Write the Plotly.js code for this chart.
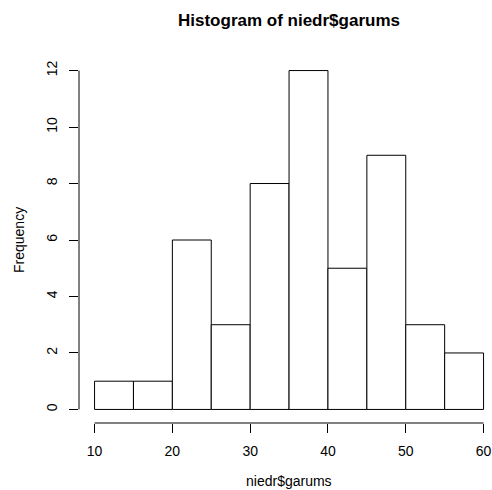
<!DOCTYPE html>
<html><head><meta charset="utf-8">
<script src="https://cdn.plot.ly/plotly-3.0.1.min.js"></script>
<style>html,body{margin:0;padding:0;background:#fff;overflow:hidden}</style>
</head><body><div id="chart" style="width:492px;height:490px"></div>
<script>
const breaks = [10, 15, 20, 25, 30, 35, 40, 45, 50, 55, 60];
const counts = [1, 1, 6, 3, 8, 12, 5, 9, 3, 2];
const xTicks = [10, 20, 30, 40, 50, 60];
const yTicks = [0, 2, 4, 6, 8, 10, 12];
const mainTitle = "Histogram of niedr$garums";
const xLabel = "niedr$garums";
const yLabel = "Frequency";

const mids = counts.map((c, i) => (breaks[i] + breaks[i + 1]) / 2);
const widths = counts.map((c, i) => breaks[i + 1] - breaks[i]);

const FONT = "Liberation Sans, Arial, Helvetica, sans-serif";
const pxPerX = 7.78;
const L = 79, T = 57, B = 67, W = 492, H = 490;
const xMin = 8, xMax = xMin + (W - L) / pxPerX;

const trace = {
  type: 'bar', x: mids, y: counts, width: widths,
  marker: {color: '#ffffff', line: {color: '#000000', width: 1}},
  hoverinfo: 'none', showlegend: false
};

const layout = {
  width: W, height: H,
  margin: {l: L, r: 0, t: T, b: B, pad: 0},
  paper_bgcolor: '#ffffff', plot_bgcolor: '#ffffff',
  font: {family: FONT, size: 14, color: '#000000'},
  showlegend: false,
  xaxis: {
    range: [xMin, xMax], tickvals: xTicks, ticktext: xTicks.map(String),
    ticks: 'outside', ticklen: 9, tickwidth: 1, tickcolor: '#000000',
    showline: false, showgrid: false, zeroline: false,
    ticklabelstandoff: 6, tickfont: {family: FONT, size: 14, color: '#000'}
  },
  yaxis: {
    range: [-0.48, 12.48], tickvals: yTicks, ticktext: yTicks.map(String),
    ticks: 'outside', ticklen: 9, tickwidth: 1, tickcolor: '#000000',
    showline: false, showgrid: false, zeroline: false, tickangle: -90,
    ticklabelstandoff: 6, tickfont: {family: FONT, size: 14, color: '#000'}
  },
  shapes: [
    {type: 'line', xref: 'x', yref: 'paper', x0: xTicks[0], x1: xTicks[xTicks.length - 1], y0: 0, y1: 0,
     line: {color: '#000', width: 1}},
    {type: 'line', xref: 'paper', yref: 'y', x0: 0, x1: 0, y0: yTicks[0], y1: yTicks[yTicks.length - 1],
     line: {color: '#000', width: 1}}
  ],
  annotations: [
    {text: '<b>' + mainTitle + '</b>', xref: 'x', yref: 'paper', x: 35, y: 1, yshift: 37,
     xanchor: 'center', yanchor: 'middle', showarrow: false, font: {family: FONT, size: 17, color: '#000'}},
    {text: xLabel, xref: 'x', yref: 'paper', x: 35, y: 0, yshift: -48,
     xanchor: 'center', yanchor: 'top', showarrow: false, font: {family: FONT, size: 14, color: '#000'}},
    {text: yLabel, xref: 'paper', yref: 'paper', x: 0, xshift: -60, y: 0.5,
     xanchor: 'center', yanchor: 'middle', textangle: -90, showarrow: false, font: {family: FONT, size: 14, color: '#000'}}
  ]
};

Plotly.newPlot('chart', [trace], layout, {staticPlot: true, displayModeBar: false});
</script>
</body></html>
